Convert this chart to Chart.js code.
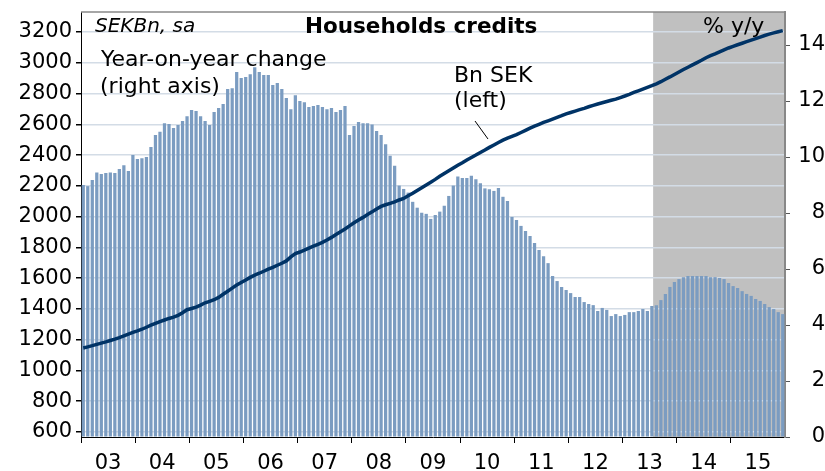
<!DOCTYPE html>
<html>
<head>
<meta charset="utf-8">
<script src="https://cdn.jsdelivr.net/npm/chart.js@4"></script>
<style>
  html, body { margin: 0; padding: 0; background: #fff; }
  canvas { display: block; }
</style>
</head>
<body>
<canvas id="chart" width="825" height="471"></canvas>
<script>
// Year labels on the x axis (monthly data, Jan 2003 - Dec 2015)
const years = ['03', '04', '05', '06', '07', '08', '09', '10', '11', '12', '13', '14', '15'];

// Household credits, SEK bn (left axis)
const creditBn = [
  1146, 1153, 1161, 1170, 1178, 1186, 1195, 1204, 1214, 1225, 1236, 1247,
  1257, 1268, 1281, 1294, 1306, 1318, 1328, 1338, 1347, 1358, 1375, 1395,
  1403, 1412, 1425, 1440, 1449, 1460, 1475, 1495, 1515, 1535, 1555, 1572,
  1588, 1605, 1620, 1632, 1645, 1658, 1670, 1684, 1697, 1712, 1738, 1760,
  1770, 1782, 1795, 1808, 1820, 1833, 1848, 1865, 1884, 1902, 1920, 1940,
  1960, 1978, 1995, 2013, 2031, 2050, 2066, 2077, 2086, 2096, 2108, 2118,
  2135, 2152, 2170, 2188, 2206, 2224, 2242, 2262, 2280, 2298, 2316, 2334,
  2350, 2368, 2384, 2400, 2417, 2433, 2450, 2466, 2482, 2497, 2510, 2522,
  2533, 2547, 2561, 2575, 2588, 2600, 2612, 2623, 2634, 2645, 2656, 2668,
  2677, 2686, 2695, 2704, 2714, 2723, 2732, 2740, 2748, 2756, 2764, 2774,
  2784, 2795, 2807, 2818, 2829, 2840, 2851, 2863, 2877, 2893, 2908, 2924,
  2940, 2956, 2971, 2986, 3001, 3016, 3033, 3046, 3058, 3071, 3084, 3096,
  3107, 3117, 3127, 3137, 3147, 3157, 3167, 3177, 3186, 3194, 3202, 3209
];

// Year-on-year change, % (right axis)
const yoyPct = [
  9.00, 8.96, 9.18, 9.45, 9.39, 9.43, 9.45, 9.43, 9.57, 9.71, 9.50, 10.07,
  9.93, 9.96, 10.00, 10.36, 10.79, 10.90, 11.21, 11.18, 11.04, 11.14, 11.29, 11.46,
  11.68, 11.64, 11.46, 11.29, 11.14, 11.61, 11.75, 11.89, 12.43, 12.46, 13.04, 12.82,
  12.86, 12.96, 13.21, 13.04, 12.93, 12.93, 12.57, 12.64, 12.43, 12.11, 11.71, 12.21,
  12.00, 11.96, 11.79, 11.82, 11.86, 11.79, 11.71, 11.75, 11.61, 11.68, 11.82, 10.79,
  11.11, 11.25, 11.21, 11.21, 11.16, 10.93, 10.79, 10.46, 10.05, 9.69, 8.98, 8.86,
  8.73, 8.40, 8.19, 8.01, 7.97, 7.79, 7.93, 8.05, 8.26, 8.61, 8.98, 9.30,
  9.25, 9.25, 9.33, 9.21, 9.06, 8.88, 8.85, 8.79, 8.89, 8.58, 8.43, 7.86,
  7.75, 7.54, 7.36, 7.18, 6.93, 6.68, 6.46, 6.21, 5.75, 5.57, 5.36, 5.25,
  5.14, 5.00, 5.00, 4.82, 4.75, 4.71, 4.50, 4.61, 4.54, 4.32, 4.39, 4.32,
  4.36, 4.46, 4.46, 4.50, 4.57, 4.50, 4.68, 4.71, 4.89, 5.11, 5.36, 5.54,
  5.64, 5.71, 5.75, 5.75, 5.75, 5.75, 5.75, 5.71, 5.71, 5.68, 5.64, 5.50,
  5.39, 5.32, 5.21, 5.11, 5.04, 4.93, 4.86, 4.75, 4.64, 4.57, 4.46, 4.39
];

const leftTicks = [600, 800, 1000, 1200, 1400, 1600, 1800, 2000, 2200, 2400, 2600, 2800, 3000, 3200];
const rightTicks = [0, 2, 4, 6, 8, 10, 12, 14];

// first month of the shaded period (Aug 2013)
const shadeFrom = 127;

// one label per month, built from the years
const months = [];
years.forEach(y => { for (let m = 1; m <= 12; m++) months.push(y + '-' + m); });

const FONT = '"DejaVu Sans", Verdana, sans-serif';

// grey background for the last part of the chart
const shadePlugin = {
  id: 'shade',
  beforeDraw(chart) {
    const { ctx, chartArea, scales: { x } } = chart;
    const x0 = (x.getPixelForValue(shadeFrom - 1) + x.getPixelForValue(shadeFrom)) / 2 - 1;
    ctx.save();
    ctx.fillStyle = '#c0c0c0';
    ctx.fillRect(x0, chartArea.top, chartArea.right - x0, chartArea.bottom - chartArea.top);
    ctx.restore();
  }
};

// titles, notes and the top frame line
const notesPlugin = {
  id: 'notes',
  afterDraw(chart) {
    const { ctx, chartArea } = chart;
    ctx.save();
    ctx.strokeStyle = '#888';
    ctx.lineWidth = 1.5;
    ctx.beginPath();
    ctx.moveTo(chartArea.left, chartArea.top);
    ctx.lineTo(chartArea.right, chartArea.top);
    ctx.stroke();

    ctx.fillStyle = '#000';
    ctx.textBaseline = 'alphabetic';
    ctx.textAlign = 'left';
    ctx.font = 'italic 20px ' + FONT;
    ctx.fillText('SEKBn, sa', 95, 32);
    ctx.font = 'bold 21.5px ' + FONT;
    ctx.fillText('Households credits', 305, 33);
    ctx.font = '22px ' + FONT;
    ctx.fillText('% y/y', 703, 33);
    ctx.fillText('Year-on-year change', 101, 66);
    ctx.fillText('(right axis)', 100, 93);
    ctx.fillText('Bn SEK', 454, 82);
    ctx.fillText('(left)', 454, 107);

    ctx.strokeStyle = '#000';
    ctx.lineWidth = 1;
    ctx.beginPath();
    ctx.moveTo(475, 121);
    ctx.lineTo(488, 139);
    ctx.stroke();
    ctx.restore();
  }
};

// keep the plot area fixed: no extra room for half-labels
function noPad(s) {
  s.paddingTop = 0;
  s.paddingBottom = 0;
}

new Chart(document.getElementById('chart'), {
  data: {
    labels: months,
    datasets: [
      {
        type: 'line',
        label: 'Bn SEK (left)',
        data: creditBn,
        yAxisID: 'y',
        borderColor: '#003366',
        borderWidth: 3.5,
        pointRadius: 0,
        tension: 0,
        order: 1
      },
      {
        type: 'bar',
        label: 'Year-on-year change (right axis)',
        data: yoyPct,
        yAxisID: 'y1',
        backgroundColor: '#7b9cc1',
        barPercentage: 0.72,
        categoryPercentage: 1,
        order: 2
      }
    ]
  },
  options: {
    responsive: false,
    animation: false,
    devicePixelRatio: 1,
    layout: { padding: { top: 12, left: 0, right: 0, bottom: 0 } },
    plugins: {
      legend: { display: false },
      tooltip: { enabled: false },
      title: { display: false }
    },
    scales: {
      x: {
        type: 'category',
        offset: true,
        grid: {
          display: true,
          drawOnChartArea: false,
          offset: true,
          tickLength: 6,
          tickColor: c => (c.index % 12 === 0 ? '#000' : 'rgba(0,0,0,0)')
        },
        border: { display: true, color: '#000', width: 1 },
        ticks: {
          autoSkip: false,
          maxRotation: 0,
          minRotation: 0,
          labelOffset: -2.3,
          padding: 8,
          color: '#000',
          font: { family: FONT, size: 21 },
          callback: (v, i) => (i % 12 === 6 ? years[Math.floor(i / 12)] : '')
        },
        afterFit: s => { s.height = 34; }
      },
      y: {
        position: 'left',
        min: 567.5,
        max: 3330,
        afterBuildTicks: s => { s.ticks = leftTicks.map(v => ({ value: v })); },
        grid: { color: '#d3dce6', lineWidth: 1.5, tickLength: 5, tickColor: '#000' },
        border: { display: true, color: '#000', width: 1 },
        ticks: {
          padding: 4,
          color: '#000',
          font: { family: FONT, size: 21 },
          callback: v => String(v)
        },
        afterFit: s => { s.width = 81; noPad(s); }
      },
      y1: {
        position: 'right',
        min: 0,
        max: 15.18,
        afterBuildTicks: s => { s.ticks = rightTicks.map(v => ({ value: v })); },
        grid: { drawOnChartArea: false, tickLength: 5, tickColor: '#555' },
        border: { display: true, color: '#888', width: 2 },
        ticks: {
          padding: 6,
          crossAlign: 'far',
          color: '#000',
          font: { family: FONT, size: 21 },
          callback: v => String(v)
        },
        afterFit: s => { s.width = 40; noPad(s); }
      }
    }
  },
  plugins: [shadePlugin, notesPlugin]
});
</script>
</body>
</html>
